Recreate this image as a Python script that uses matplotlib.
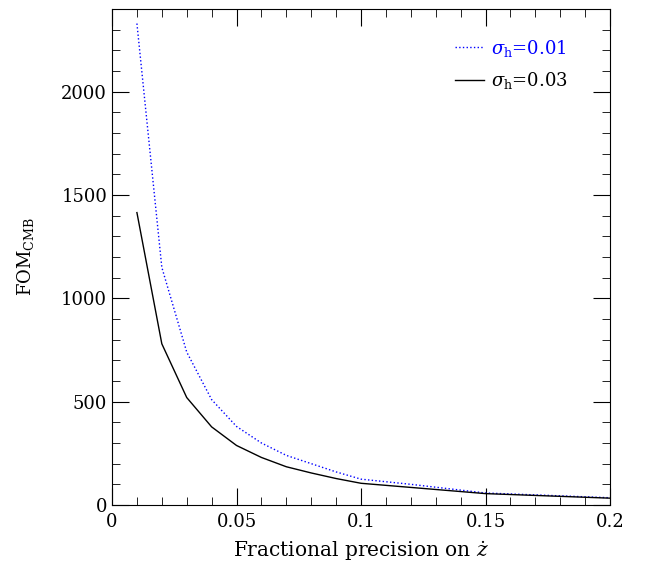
import numpy as np
import matplotlib.pyplot as plt
from matplotlib.ticker import MultipleLocator

plt.rcParams["font.family"] = "DejaVu Serif"
plt.rcParams["mathtext.fontset"] = "dejavuserif"

precision = [0.01, 0.02, 0.03, 0.04, 0.05, 0.06, 0.07, 0.08, 0.09, 0.10, 0.12, 0.15, 0.20]
fom_sigma_001 = [2330, 1150, 740, 510, 380, 300, 240, 200, 160, 125, 100, 58, 35]
fom_sigma_003 = [1415, 780, 520, 378, 288, 230, 185, 155, 128, 105, 85, 55, 33]

fig = plt.figure(figsize=(6.49, 5.66), dpi=100)
ax = fig.add_axes([0.1726, 0.1078, 0.7674, 0.8762])

ax.plot(precision, fom_sigma_001, color="blue", linestyle=":", linewidth=1.0,
        label=r"$\sigma_{\rm h}$=0.01")
ax.plot(precision, fom_sigma_003, color="black", linestyle="-", linewidth=1.0,
        label=r"$\sigma_{\rm h}$=0.03")

ax.set_xlim(0, 0.2)
ax.set_ylim(0, 2400)
ax.xaxis.set_major_locator(MultipleLocator(0.05))
ax.xaxis.set_minor_locator(MultipleLocator(0.01))
ax.yaxis.set_major_locator(MultipleLocator(500))
ax.yaxis.set_minor_locator(MultipleLocator(100))
ax.set_xticks([0, 0.05, 0.1, 0.15, 0.2])
ax.set_xticklabels(["0", "0.05", "0.1", "0.15", "0.2"])

ax.tick_params(which="both", direction="in", top=True, right=True, labelsize=13)
ax.tick_params(which="major", length=12)
ax.tick_params(which="minor", length=6)
ax.tick_params(axis="x", pad=6)

ax.set_xlabel(r"Fractional precision on $\dot{z}$", fontsize=14.5, labelpad=6)
ax.set_ylabel(r"FOM$_{\rm CMB}$", fontsize=13, labelpad=18)

ax.legend(loc="upper right", bbox_to_anchor=(0.93, 0.957), borderaxespad=0,
          frameon=False, fontsize=13, labelcolor="linecolor",
          handlelength=1.6, handletextpad=0.4, labelspacing=0.65)

fig.savefig("out.png", dpi=100)
